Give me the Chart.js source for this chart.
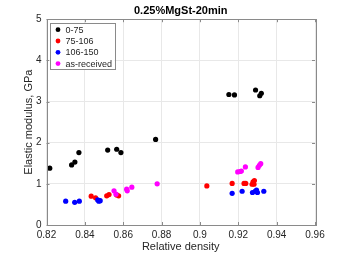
<!DOCTYPE html>
<html>
<head>
<meta charset="utf-8">
<script src="https://cdn.jsdelivr.net/npm/chart.js@4/dist/chart.umd.min.js"></script>
<style>
  html, body { margin: 0; padding: 0; background: #fff; }
  #wrap { width: 349px; height: 254px; }
</style>
</head>
<body>
<div id="wrap"><canvas id="modChart"></canvas></div>
<script>
// ── Data ────────────────────────────────────────────────────
const seriesNames = ['0-75', '75-106', '106-150', 'as-received'];
const seriesColors = ['#000000', '#ff0000', '#0000ff', '#ff00ff'];

const density0_75 = [0.8217, 0.8331, 0.8348, 0.8369, 0.8519, 0.8566, 0.8588, 0.8769, 0.9151, 0.9180, 0.9290, 0.9312, 0.9320];
const modulus0_75 = [1.38, 1.46, 1.53, 1.76, 1.82, 1.84, 1.76, 2.08, 3.17, 3.16, 3.28, 3.14, 3.20];

const density75_106 = [0.8433, 0.8456, 0.8514, 0.8526, 0.8566, 0.8576, 0.9036, 0.9168, 0.9230, 0.9239, 0.9272, 0.9277, 0.9284, 0.9282];
const modulus75_106 = [0.70, 0.66, 0.71, 0.74, 0.73, 0.71, 0.95, 1.01, 1.01, 1.01, 0.99, 1.05, 1.08, 0.99];

const density106_150 = [0.8300, 0.8347, 0.8371, 0.8467, 0.8473, 0.8480, 0.9168, 0.9220, 0.9274, 0.9288, 0.9295, 0.9300, 0.9333];
const modulus106_150 = [0.58, 0.55, 0.58, 0.61, 0.58, 0.59, 0.77, 0.82, 0.79, 0.82, 0.85, 0.79, 0.82];

const densityAsRec = [0.8552, 0.8562, 0.8618, 0.8621, 0.8645, 0.8777, 0.9197, 0.9209, 0.9216, 0.9237, 0.9303, 0.9310, 0.9317];
const modulusAsRec = [0.83, 0.75, 0.87, 0.83, 0.92, 1.00, 1.29, 1.30, 1.31, 1.41, 1.40, 1.45, 1.49];

const xTickVals = [0.82, 0.84, 0.86, 0.88, 0.90, 0.92, 0.94, 0.96];
const yTickVals = [0, 1, 2, 3, 4, 5];

const chartTitle = '0.25%MgSt-20min';
const xTitle = 'Relative density';
const yTitle = 'Elastic modulus, GPa';

// ── Helpers ─────────────────────────────────────────────────
const FONT = "'Liberation Sans', Arial, Helvetica, sans-serif";
const TEXT = '#262626';
const AXIS = '#8a8a8a';

function toPoints(xs, ys) {
  return xs.map((x, i) => ({ x, y: ys[i] }));
}

const allX = [density0_75, density75_106, density106_150, densityAsRec];
const allY = [modulus0_75, modulus75_106, modulus106_150, modulusAsRec];

const datasets = seriesNames.map((name, i) => ({
  label: name,
  data: toPoints(allX[i], allY[i]),
  backgroundColor: seriesColors[i],
  borderColor: seriesColors[i],
  borderWidth: 0,
  pointRadius: 2.6,
  pointHoverRadius: 2.6,
  order: seriesNames.length - i,
}));

// box round the plot, inward ticks, and a legend in the top-left corner
const matlabAxes = {
  id: 'matlabAxes',
  afterDatasetsDraw(chart) {
    const { ctx, chartArea: a, scales } = chart;
    ctx.save();
    ctx.strokeStyle = AXIS;
    ctx.lineWidth = 1;
    ctx.strokeRect(Math.round(a.left) + 0.5, Math.round(a.top) + 0.5,
                   Math.round(a.right - a.left), Math.round(a.bottom - a.top));
    const tl = 3;
    ctx.beginPath();
    xTickVals.forEach(v => {
      const px = Math.round(scales.x.getPixelForValue(v)) + 0.5;
      ctx.moveTo(px, a.bottom); ctx.lineTo(px, a.bottom - tl);
      ctx.moveTo(px, a.top);    ctx.lineTo(px, a.top + tl);
    });
    yTickVals.forEach(v => {
      const py = Math.round(scales.y.getPixelForValue(v)) + 0.5;
      ctx.moveTo(a.left, py);  ctx.lineTo(a.left + tl, py);
      ctx.moveTo(a.right, py); ctx.lineTo(a.right - tl, py);
    });
    ctx.stroke();

    // legend
    const lx = a.left + 3, ly = a.top + 4, lw = 65, lh = 46;
    ctx.fillStyle = '#fff';
    ctx.fillRect(lx, ly, lw, lh);
    ctx.strokeStyle = AXIS;
    ctx.strokeRect(Math.round(lx) + 0.5, Math.round(ly) + 0.5, lw, lh);
    ctx.font = '9px ' + FONT;
    ctx.textBaseline = 'middle';
    seriesNames.forEach((name, i) => {
      const cy = ly + 6.5 + i * 11.3;
      ctx.fillStyle = seriesColors[i];
      ctx.beginPath();
      ctx.arc(lx + 8.5, cy, 2.4, 0, Math.PI * 2);
      ctx.fill();
      ctx.fillStyle = TEXT;
      ctx.fillText(name, lx + 16, cy + 0.5);
    });
    ctx.restore();
  },
};

new Chart(document.getElementById('modChart'), {
  type: 'scatter',
  data: { datasets },
  options: {
    responsive: true,
    maintainAspectRatio: false,
    animation: false,
    events: [],
    layout: { padding: { left: 0, right: 34, top: 0, bottom: 0 } },
    plugins: {
      legend: { display: false },
      tooltip: { enabled: false },
      title: {
        display: true,
        text: chartTitle,
        fullSize: false,
        color: '#000',
        font: { family: FONT, size: 11, weight: 'bold', lineHeight: 1.2 },
        padding: { top: 4, bottom: 2 },
      },
    },
    scales: {
      x: {
        type: 'linear',
        min: 0.82,
        max: 0.96,
        afterBuildTicks: s => { s.ticks = xTickVals.map(v => ({ value: v })); },
        afterFit: s => { s.height = 29; },
        grid: { color: '#e8e8e8', drawTicks: false },
        border: { display: false },
        ticks: {
          color: TEXT,
          padding: 4,
          maxRotation: 0,
          font: { family: FONT, size: 10 },
          callback: v => String(parseFloat(v.toFixed(2))),
        },
        title: {
          display: true,
          text: xTitle,
          color: TEXT,
          padding: { top: 0, bottom: 0 },
          font: { family: FONT, size: 11, lineHeight: 1.2 },
        },
      },
      y: {
        min: 0,
        max: 5,
        afterBuildTicks: s => { s.ticks = yTickVals.map(v => ({ value: v })); },
        afterFit: s => { s.width = 46.5; },
        grid: { color: '#e8e8e8', drawTicks: false },
        border: { display: false },
        ticks: {
          color: TEXT,
          padding: 5,
          font: { family: FONT, size: 10 },
        },
        title: {
          display: true,
          text: yTitle,
          color: TEXT,
          padding: { top: 22.4, bottom: 0 },
          font: { family: FONT, size: 11, lineHeight: 1.2 },
        },
      },
    },
  },
  plugins: [matlabAxes],
});
</script>
</body>
</html>
